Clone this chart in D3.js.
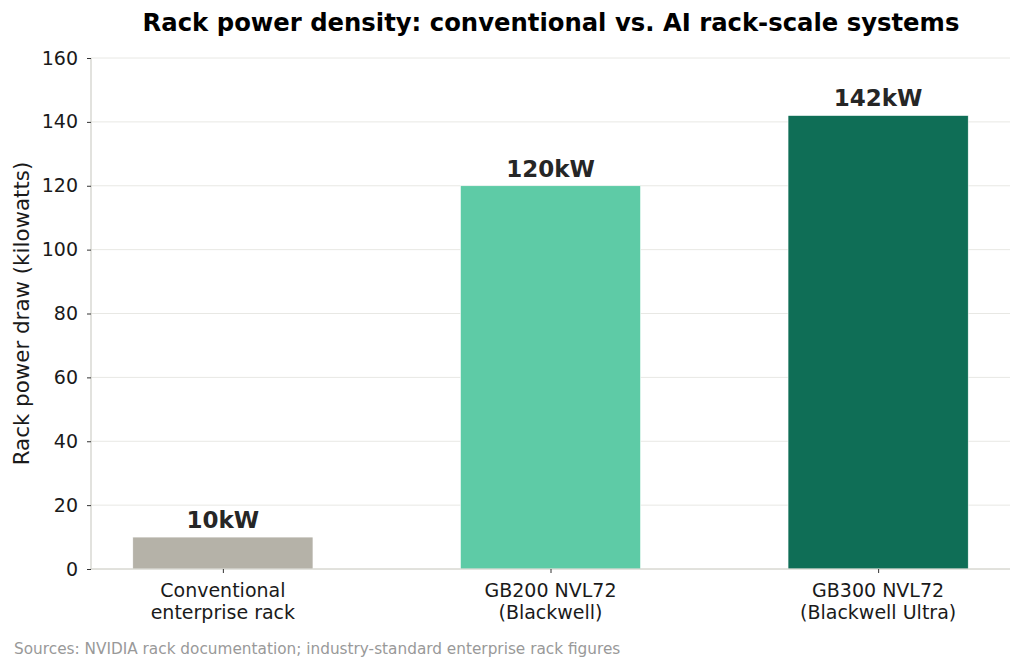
<!DOCTYPE html>
<html>
<head>
<meta charset="utf-8">
<script src="https://cdn.jsdelivr.net/npm/d3@7"></script>
<style>
  body { margin: 0; background: #fff; }
  text { font-family: "DejaVu Sans", sans-serif; }
</style>
</head>
<body>
<svg id="chart" width="1024" height="671"></svg>
<script>
// chart data
var categories = ["Conventional\nenterprise rack", "GB200 NVL72\n(Blackwell)", "GB300 NVL72\n(Blackwell Ultra)"];
var values = [10, 120, 142];
var valueLabels = ["10kW", "120kW", "142kW"];
var barColors = ["#b5b2a8", "#5ecba6", "#0f6e56"];
var yTicks = [0, 20, 40, 60, 80, 100, 120, 140, 160];

var svg = d3.select("#chart");
var margin = {left: 91, right: 14, top: 58, bottom: 102};
var W = 1024, H = 671;

/* x in data units, like a bar plot with 0.55 wide bars */
var x = d3.scaleLinear().domain([-0.4025, 2.4025]).range([margin.left, W - margin.right]);
var y = d3.scaleLinear().domain([0, 160]).range([H - margin.bottom, margin.top]);
var bw = 0.55;

// gridlines
svg.append("g").selectAll("line").data(yTicks).enter().append("line")
  .attr("x1", x.range()[0]).attr("x2", x.range()[1])
  .attr("y1", function(d) { return y(d); }).attr("y2", function(d) { return y(d); })
  .attr("stroke", "#e8e8e4").attr("stroke-width", 1);

// bars
svg.append("g").selectAll("rect").data(values).enter().append("rect")
  .attr("x", function(d, i) { return x(i - bw / 2); })
  .attr("width", function() { return x(bw) - x(0); })
  .attr("y", function(d) { return y(d); })
  .attr("height", function(d) { return y(0) - y(d); })
  .attr("fill", function(d, i) { return barColors[i]; })
  .attr("stroke", "#ffffff").attr("stroke-width", 0.6);

// value labels
svg.append("g").selectAll("text").data(values).enter().append("text")
  .attr("x", function(d, i) { return x(i); })
  .attr("y", function(d) { return y(d) - 9; })
  .attr("text-anchor", "middle")
  .attr("font-size", 23).attr("font-weight", "bold").attr("fill", "#262626")
  .text(function(d, i) { return valueLabels[i]; });

// y axis
var yAxis = d3.axisLeft(y).tickValues(yTicks).tickSize(4).tickPadding(9);
var gy = svg.append("g").attr("transform", "translate(" + margin.left + ",0)").call(yAxis);
gy.select(".domain").attr("stroke", "#cfcfc8").attr("stroke-width", 1.2).attr("d", "M0," + y(160) + "V" + y(0));
gy.selectAll(".tick line").attr("stroke", "#333");
gy.selectAll(".tick text").attr("font-size", 19).attr("fill", "#1a1a1a").attr("font-family", "DejaVu Sans");

// x axis
var xAxis = d3.axisBottom(x).tickValues([0, 1, 2]).tickSize(4).tickFormat("");
var gx = svg.append("g").attr("transform", "translate(0," + y(0) + ")").call(xAxis);
gx.select(".domain").attr("stroke", "#cfcfc8").attr("stroke-width", 1.2).attr("d", "M" + x.range()[0] + ",0H" + x.range()[1]);
gx.selectAll(".tick line").attr("stroke", "#333");

// category labels, two lines each
svg.append("g").selectAll("text").data(categories).enter().append("text")
  .attr("x", function(d, i) { return x(i); })
  .attr("y", y(0) + 28)
  .attr("text-anchor", "middle")
  .attr("font-size", 19).attr("fill", "#1a1a1a")
  .each(function(d) {
    var t = d3.select(this);
    d.split("\n").forEach(function(line, k) {
      t.append("tspan").attr("x", t.attr("x")).attr("dy", k == 0 ? 0 : 22).text(line);
    });
  });

// y label
svg.append("text")
  .attr("transform", "translate(29," + ((y(0) + y(160)) / 2) + ") rotate(-90)")
  .attr("text-anchor", "middle")
  .attr("font-size", 21.4).attr("fill", "#1a1a1a")
  .text("Rack power draw (kilowatts)");

// title
svg.append("text")
  .attr("x", 551).attr("y", 31)
  .attr("text-anchor", "middle")
  .attr("font-size", 24.3).attr("font-weight", "bold").attr("fill", "#000")
  .text("Rack power density: conventional vs. AI rack-scale systems");

// source note
svg.append("text")
  .attr("x", 14).attr("y", 654)
  .attr("font-size", 15.3).attr("fill", "#999")
  .text("Sources: NVIDIA rack documentation; industry-standard enterprise rack figures");
</script>
</body>
</html>
